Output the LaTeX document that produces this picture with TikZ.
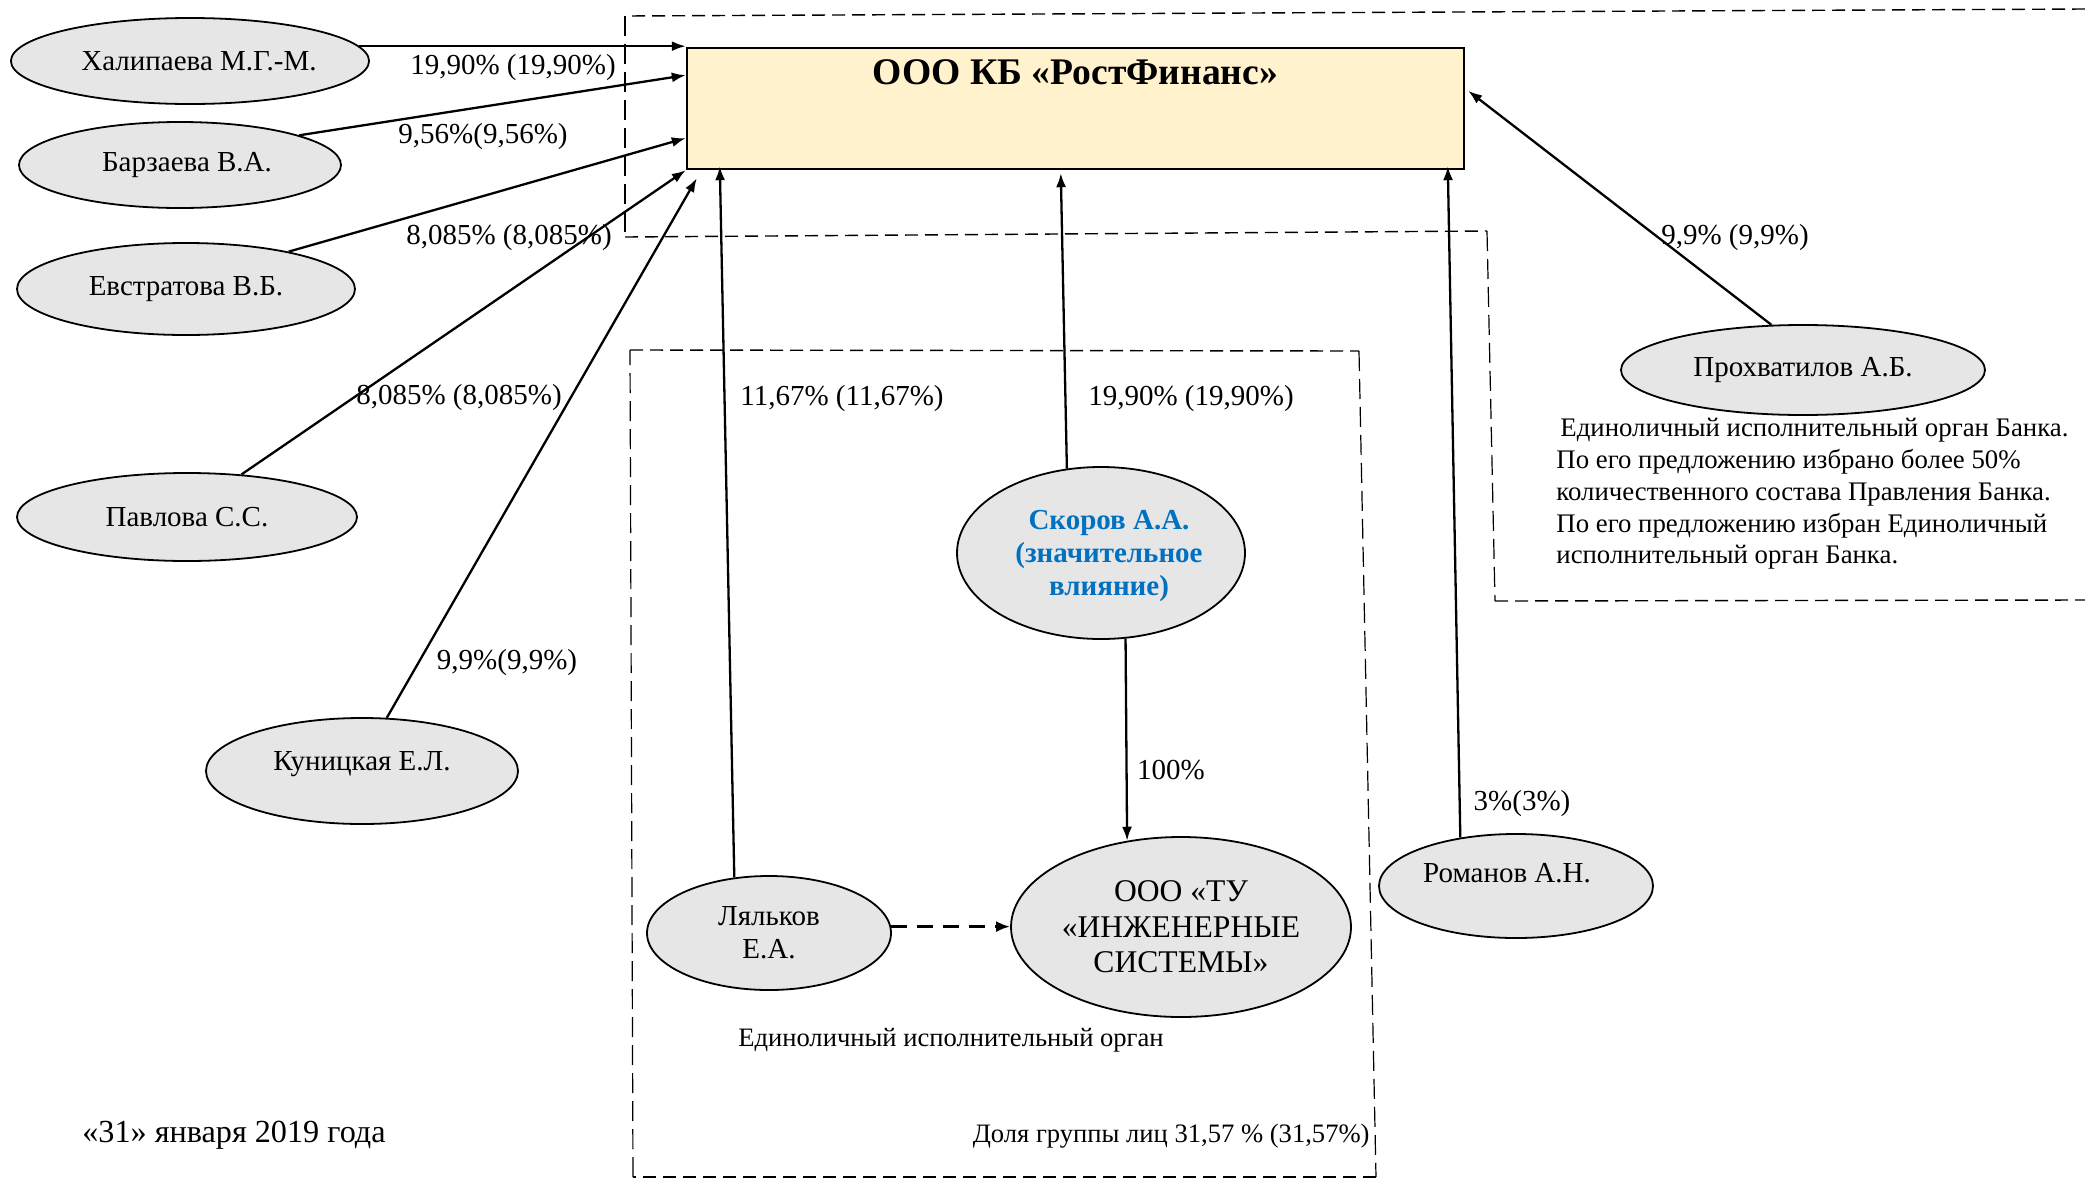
\documentclass[tikz,border=0pt]{standalone}
\usepackage{fontspec}
\setmainfont{Liberation Serif}
\usetikzlibrary{arrows.meta,calc,shapes.geometric}
\definecolor{ellfill}{HTML}{E6E6E6}
\definecolor{boxfill}{HTML}{FFF2CC}
\definecolor{skblue}{HTML}{0070C0}
\begin{document}
\begin{tikzpicture}[x=0.5pt,y=-0.5pt,
  person/.style={ellipse,draw,line width=0.9pt,fill=ellfill,inner sep=0pt,align=center,font=\fontsize{14.5}{16.5}\selectfont},
  own/.style={line width=1.15pt,-{Latex[length=7pt,width=5pt]}},
  pct/.style={font=\fontsize{14.5}{16}\selectfont,inner sep=0pt},
  small/.style={font=\fontsize{13.3}{15}\selectfont,inner sep=0pt},
  grph/.style={dash pattern=on 6.5pt off 3.5pt, line width=0.7pt},
  grpv/.style={dash pattern=on 10pt off 4pt, line width=0.6pt},
  note/.style={font=\fontsize{13.4}{15.9}\selectfont, align=left, inner sep=0pt}
]
\useasboundingbox (0,0) rectangle (2085,1179);

% group outlines (outer)
\draw[grph] (2085,9) -- (625,16);
\draw[grpv] (625,16) -- (625,237);
\draw[grph] (625,237) -- (1487,231);
\draw[grpv] (1487,231) -- (1495,601);
\draw[grph] (1495,601) -- (2085,600);
% group outline (inner)
\draw[grph] (630,350) -- (1359,351);
\draw[grpv] (1359,351) -- (1376,1177);
\draw[grph] (1376,1177) -- (633,1177);
\draw[grpv] (633,1177) -- (630,350);

% bank
\node[draw,line width=1.2pt,fill=boxfill,minimum width=388.5pt,minimum height=60.5pt,inner sep=0pt,
      text height=13pt,text depth=37pt,font=\bfseries\fontsize{18.8}{21}\selectfont]
      (bank) at (1075.5,108.5) {ООО КБ «РостФинанс»};

% persons
\node[person,minimum width=178pt,minimum height=43pt] (hal) at (190,61) {\hspace*{9pt}Халипаева М.Г.-М.};
\node[person,minimum width=161pt,minimum height=43pt] (bar) at (180,165) {\hspace*{7pt}Барзаева В.А.};
\node[person,minimum width=169pt,minimum height=46pt] (evs) at (186,289) {Евстратова В.Б.};
\node[person,minimum width=170pt,minimum height=44pt] (pav) at (187,517) {Павлова С.С.};
\node[person,minimum width=156pt,minimum height=53pt,text height=10pt,text depth=11pt] (kun) at (362,771) {Куницкая Е.Л.};
\node[person,minimum width=144pt,minimum height=86pt,text=skblue,font=\bfseries\fontsize{14.5}{16.5}\selectfont] (sko) at (1101,553)
  {\hspace*{8pt}\rule{0pt}{13pt}Скоров А.А.\\\hspace*{8pt}(значительное\\\hspace*{8pt}влияние)};
\node[person,minimum width=122pt,minimum height=57pt] (lyal) at (769,933) {Ляльков\\Е.А.};
\node[person,minimum width=170pt,minimum height=90pt,font=\fontsize{15.8}{17.8}\selectfont] (tu) at (1181,927) {ООО «ТУ\\«ИНЖЕНЕРНЫЕ\\СИСТЕМЫ»};
\node[person,minimum width=137pt,minimum height=52pt,text height=10pt,text depth=14pt] (rom) at (1516,886) {Романов А.Н.\hspace*{9pt}};
\node[person,minimum width=182pt,minimum height=45pt] (pro) at (1803,370) {Прохватилов А.Б.};

% ownership arrows
\draw[own] (hal.5) -- (hal.5 -| bank.west);
\draw[own] (bar.14) -- ($(bank.north west)!0.23!(bank.south west)$);
\draw[own] (evs.20) -- ($(bank.north west)!0.74!(bank.south west)$);
\draw[own] (pav.38) -- (bank.south west);
\draw[own] (kun.65) -- ([xshift=5.5pt,yshift=-4pt]bank.south west);
\draw[own] (lyal.122) -- ([xshift=17pt,yshift=2pt]bank.south west);
\draw[own] (sko.112) -- ([xshift=187.5pt,yshift=-1.5pt]bank.south west);
\draw[own] (sko.286) -- (tu.122);
\draw[line width=1.4pt,dash pattern=on 8pt off 5pt,-{Latex[length=7pt,width=5.5pt]}] (lyal.3) -- (lyal.3 -| tu.west);
\draw[own] (rom.139) -- ([xshift=381pt,yshift=2pt]bank.south west);
\draw[own] (pro.125) -- ([xshift=1.5pt,yshift=-22pt]bank.north east);

% percentage labels
\node[pct] (p1) at (513,68) {19,90\% (19,90\%)};
\node[pct] (p2) at (483,137) {9,56\%(9,56\%)};
\node[pct] (p3) at (509,238) {8,085\% (8,085\%)};
\node[pct] (p4) at (459,398) {8,085\% (8,085\%)};
\node[pct] (p5) at (507,663) {9,9\%(9,9\%)};
\node[pct] (p6) at (842,399) {11,67\% (11,67\%)};
\node[pct] (p7) at (1191,399) {19,90\% (19,90\%)};
\node[pct] (p8) at (1171,770) {100\%};
\node[pct] (p9) at (1522,804) {3\%(3\%)};
\node[pct] (p10) at (1735,238) {9,9\% (9,9\%)};

% notes
\node[note,anchor=north west] (notes) at (1556,418) {\hspace*{2pt}Единоличный исполнительный орган Банка.\\По его предложению избрано более 50\%\\количественного состава Правления Банка.\\По его предложению избран Единоличный\\исполнительный орган Банка.};
\node[small] (eio) at (951,1040) {Единоличный исполнительный орган};
\node[small,anchor=east] (share) at (1370,1136) {Доля группы лиц 31,57 \% (31,57\%)};
\node[font=\fontsize{16.1}{18}\selectfont,inner sep=0pt] (date) at (234,1135) {«31» января 2019 года};
\end{tikzpicture}
\end{document}
